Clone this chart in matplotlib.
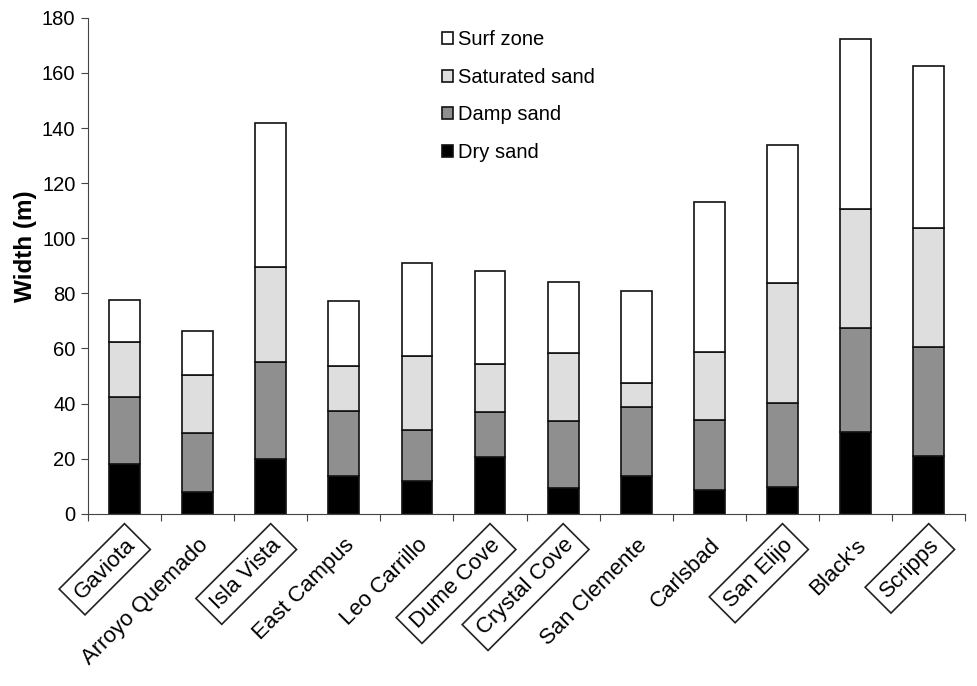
import matplotlib.pyplot as plt
import numpy as np

plt.rcParams['font.family'] = ['Liberation Sans', 'DejaVu Sans']

beaches = ["Gaviota", "Arroyo Quemado", "Isla Vista", "East Campus", "Leo Carrillo",
           "Dume Cove", "Crystal Cove", "San Clemente", "Carlsbad", "San Elijo",
           "Black's", "Scripps"]
boxed = ["Gaviota", "Isla Vista", "Dume Cove", "Crystal Cove", "San Elijo", "Scripps"]

dry_sand = [18, 8, 20, 13.7, 12, 20.8, 9.5, 13.7, 8.6, 9.8, 29.6, 21]
damp_sand = [24.5, 21.5, 35, 23.6, 18.3, 16.1, 24.2, 25.1, 25.4, 30.3, 38, 39.5]
saturated_sand = [20, 20.7, 34.7, 16.5, 26.8, 17.3, 24.6, 8.6, 24.7, 43.5, 42.9, 43.4]
surf_zone = [15, 16, 52.2, 23.5, 33.9, 33.9, 25.7, 33.5, 54.6, 50.4, 61.9, 58.7]

layers = [("Dry sand", dry_sand, "black"),
          ("Damp sand", damp_sand, "#8f8f8f"),
          ("Saturated sand", saturated_sand, "#dedede"),
          ("Surf zone", surf_zone, "white")]

fig = plt.figure(figsize=(9.77, 6.86), dpi=100)
ax = fig.add_axes([0.090, 0.251, 0.898, 0.723])

x = np.arange(len(beaches))
bottom = np.zeros(len(beaches))
for name, vals, color in layers:
    ax.bar(x, vals, bottom=bottom, width=0.42, color=color,
           edgecolor="#111111", linewidth=1.2, label=name)
    bottom += np.array(vals)

ax.set_xlim(-0.5, len(beaches) - 0.5)
ax.set_ylim(0, 180)
ax.set_yticks(range(0, 181, 20))
ax.tick_params(axis="y", labelsize=14.5, direction="out", length=5,
               color="#444444", pad=4)
ax.set_ylabel("Width (m)", fontsize=17.5, fontweight="bold")
ax.yaxis.set_label_coords(-0.058, 0.54)

# ticks between categories, labels at category centres
ax.set_xticks(np.arange(-0.5, len(beaches), 1.0))
ax.set_xticklabels([])
ax.tick_params(axis="x", direction="out", length=5, color="#444444")
ax.set_xticks(x, minor=True)
ax.set_xticklabels(beaches, minor=True, rotation=45, ha="right",
                   rotation_mode="anchor", fontsize=16)
ax.tick_params(axis="x", which="minor", length=0, pad=15)
for lbl in ax.get_xticklabels(minor=True):
    if lbl.get_text() in boxed:
        lbl.set_bbox(dict(boxstyle="square,pad=0.35", facecolor="white",
                          edgecolor="#222222", linewidth=1.2))

for side in ("top", "right"):
    ax.spines[side].set_visible(False)
for side in ("left", "bottom"):
    ax.spines[side].set_color("#444444")

handles, labels = ax.get_legend_handles_labels()
ax.legend(handles[::-1], labels[::-1], loc="upper left",
          bbox_to_anchor=(0.383, 1.012), frameon=False, fontsize=14.5,
          handlelength=0.55, handleheight=0.55, handletextpad=0.25,
          labelspacing=0.93)

fig.savefig("out.png", dpi=100)
